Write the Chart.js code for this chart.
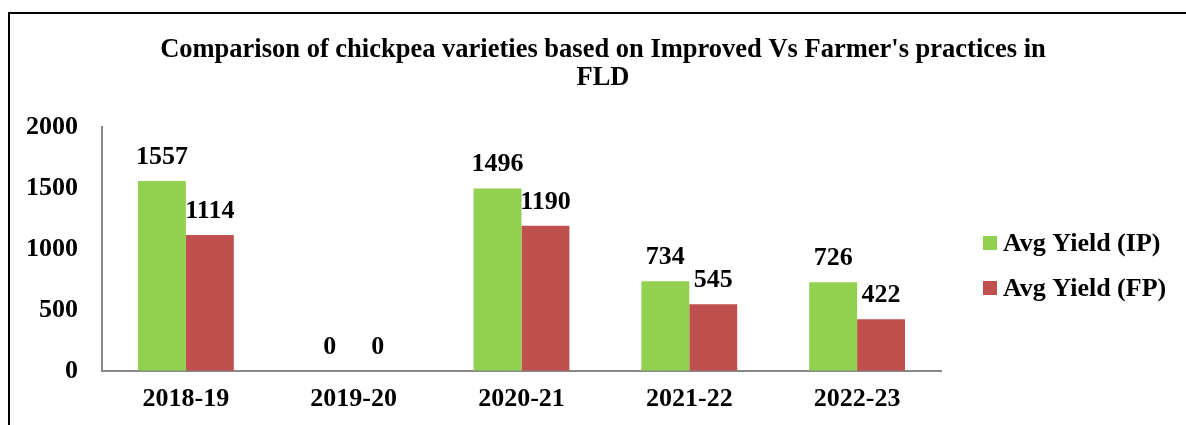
<!DOCTYPE html>
<html>
<head>
<meta charset="utf-8">
<title>Chickpea FLD yield</title>
<script src="https://cdn.jsdelivr.net/npm/chart.js@4.4.0/dist/chart.umd.min.js"></script>
<style>
    html, body { margin: 0; padding: 0; background: #fff; }
    #wrap { position: relative; width: 1186px; height: 425px; }
</style>
</head>
<body>
<div id="wrap"><canvas id="yieldChart" width="1186" height="425"></canvas></div>
<script>
const years = ['2018-19', '2019-20', '2020-21', '2021-22', '2022-23'];
const yieldIP = [1557, 0, 1496, 734, 726];
const yieldFP = [1114, 0, 1190, 545, 422];
const yTicks = [0, 500, 1000, 1500, 2000];
const seriesNames = ['Avg Yield (IP)', 'Avg Yield (FP)'];
const seriesColors = ['#92D050', '#C0504D'];
const titleLines = ["Comparison of chickpea varieties based on Improved Vs Farmer's practices in", 'FLD'];

const FONT = "'Liberation Serif', 'Times New Roman', serif";
const boldFont = size => 'bold ' + size + 'px ' + FONT;

// frame, title, value labels and legend are drawn here
const decorPlugin = {
    id: 'decor',
    beforeDraw(chart) {
        const ctx = chart.ctx;
        ctx.save();
        ctx.fillStyle = '#000';
        ctx.fillRect(8, 12, chart.width - 8, 2);
        ctx.fillRect(8, 12, 2, chart.height - 12);
        ctx.restore();
    },
    afterDatasetsDraw(chart) {
        const ctx = chart.ctx;
        ctx.save();
        ctx.font = boldFont(26);
        ctx.fillStyle = '#000';
        ctx.textAlign = 'center';
        ctx.textBaseline = 'alphabetic';
        chart.data.datasets.forEach((ds, i) => {
            chart.getDatasetMeta(i).data.forEach((bar, j) => {
                ctx.fillText(String(ds.data[j]), bar.x, bar.y - 17);
            });
        });
        ctx.restore();
    },
    afterDraw(chart) {
        const ctx = chart.ctx;
        ctx.save();
        ctx.fillStyle = '#000';
        ctx.font = boldFont(26.5);
        ctx.textAlign = 'center';
        ctx.textBaseline = 'alphabetic';
        titleLines.forEach((line, i) => ctx.fillText(line, 603, 57 + i * 28));

        // legend
        ctx.font = boldFont(26);
        ctx.textAlign = 'left';
        chart.data.datasets.forEach((ds, i) => {
            const cy = 243 + i * 45;
            ctx.fillStyle = ds.backgroundColor;
            ctx.fillRect(983, cy - 7, 14, 14);
            ctx.fillStyle = '#000';
            ctx.fillText(ds.label, 1003, cy + 8);
        });
        ctx.restore();
    }
};

const ctxYield = document.getElementById('yieldChart').getContext('2d');
const yieldChart = new Chart(ctxYield, {
    type: 'bar',
    data: {
        labels: years,
        datasets: [{
            label: seriesNames[0],
            data: yieldIP,
            backgroundColor: seriesColors[0],
            borderWidth: 0
        }, {
            label: seriesNames[1],
            data: yieldFP,
            backgroundColor: seriesColors[1],
            borderWidth: 0
        }]
    },
    options: {
        responsive: false,
        animation: false,
        layout: {
            padding: { top: 127, left: 2, right: 245, bottom: -3 }
        },
        barPercentage: 1,
        categoryPercentage: 0.571,
        scales: {
            x: {
                grid: { display: false, drawTicks: false },
                border: { color: '#888', width: 2 },
                ticks: {
                    color: '#000',
                    padding: 13,
                    font: { family: FONT, size: 26, weight: 'bold' }
                }
            },
            y: {
                min: 0,
                max: 2000,
                afterBuildTicks: axis => { axis.ticks = yTicks.map(v => ({ value: v })); },
                grid: { display: false, drawTicks: false },
                border: { color: '#888', width: 2 },
                ticks: {
                    color: '#000',
                    padding: 24,
                    callback: v => String(v),
                    font: { family: FONT, size: 26, weight: 'bold' }
                }
            }
        },
        plugins: {
            legend: { display: false },
            title: { display: false },
            tooltip: { enabled: false }
        }
    },
    plugins: [decorPlugin]
});
</script>
</body>
</html>
